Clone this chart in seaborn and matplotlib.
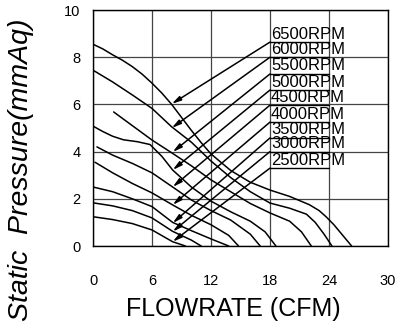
import matplotlib
matplotlib.use("Agg")
import matplotlib.pyplot as plt
import seaborn as sns
import pandas as pd

# ---- data ----
rpm_labels = ["6500RPM", "6000RPM", "5500RPM", "5000RPM", "4500RPM",
              "4000RPM", "3500RPM", "3000RPM", "2500RPM"]

x_6500 = [0, 1, 2, 3, 4, 5, 6, 7, 8, 9, 10, 11, 12, 14, 16, 18, 20, 22, 23, 23.7, 24.5, 25.4, 26.3]
y_6500 = [8.55, 8.35, 8.1, 7.87, 7.6, 7.28, 6.9, 6.48, 6.0, 5.45, 4.9, 4.38, 3.9, 3.2, 2.7, 2.37, 2.1, 1.75, 1.5, 1.24, 0.9, 0.45, 0]
x_6000 = [0, 2, 4, 6, 8, 10, 12, 14, 16, 18, 20, 21.7, 22.6, 23.5, 24.3]
y_6000 = [7.45, 6.95, 6.4, 5.83, 5.05, 4.4, 3.6, 2.9, 2.3, 1.82, 1.6, 1.35, 1.0, 0.5, 0]
x_5500 = [2.1, 4, 6, 8, 10, 12, 14, 16, 18, 20, 21.2, 22.2]
y_5500 = [5.68, 5.1, 4.49, 3.95, 3.4, 2.8, 2.3, 1.8, 1.4, 1.05, 0.6, 0]
x_5000 = [0, 1, 2, 3.1, 4.5, 5.8, 7, 8.1, 10, 12, 14, 16, 17.5, 18.6]
y_5000 = [5.08, 4.85, 4.65, 4.5, 4.42, 4.3, 3.8, 3.22, 2.5, 1.9, 1.45, 1.05, 0.6, 0]
x_4500 = [0.4, 2, 4, 6, 8.1, 10, 12, 14, 16, 17]
y_4500 = [4.2, 3.85, 3.5, 3.1, 2.5, 1.95, 1.5, 1.1, 0.5, 0]
x_4000 = [0.2, 2, 4, 6, 8.1, 10, 12, 13.8, 14.8]
y_4000 = [3.55, 3.1, 2.65, 2.25, 1.74, 1.3, 0.9, 0.45, 0]
x_3500 = [0, 2, 4, 6, 8.1, 10, 12, 13.8]
y_3500 = [2.5, 2.3, 2.0, 1.67, 1.0, 0.65, 0.3, 0]
x_3000 = [0, 2, 4, 6, 8.1, 10, 11]
y_3000 = [1.83, 1.7, 1.5, 1.19, 0.62, 0.25, 0]
x_2500 = [0, 2, 4, 6, 8.1, 9.4]
y_2500 = [1.24, 1.12, 0.95, 0.68, 0.18, 0]

curves_x = [x_6500, x_6000, x_5500, x_5000, x_4500, x_4000, x_3500, x_3000, x_2500]
curves_y = [y_6500, y_6000, y_5500, y_5000, y_4500, y_4000, y_3500, y_3000, y_2500]

# label underline heights (where arrows start) and arrow tips
label_y = [8.64, 8.0, 7.29, 6.61, 5.97, 5.25, 4.58, 4.0, 3.3]
tip_x = [8.0, 8.0, 8.1, 8.1, 8.1, 8.1, 8.1, 8.1, 8.1]
tip_y = [6.02, 5.0, 3.98, 3.22, 2.5, 1.74, 0.97, 0.61, 0.18]

x_ticks = [0, 6, 12, 18, 24, 30]
y_ticks = [0, 2, 4, 6, 8, 10]

# ---- build long-form table ----
rows = []
for lab, xs, ys in zip(rpm_labels, curves_x, curves_y):
    for a, b in zip(xs, ys):
        rows.append({"rpm": lab, "flow": a, "pressure": b})
df = pd.DataFrame(rows)

sns.set_theme(style="white")
plt.rcParams["font.family"] = ["Liberation Sans", "DejaVu Sans"]
plt.rcParams["text.color"] = "black"
plt.rcParams["axes.labelcolor"] = "black"
plt.rcParams["xtick.color"] = "black"
plt.rcParams["ytick.color"] = "black"

fig = plt.figure(figsize=(4.07, 3.30), dpi=100)
ax = fig.add_axes([93/407, 1 - 246/330, 295/407, 236/330])

sns.lineplot(data=df, x="flow", y="pressure", hue="rpm", units="rpm",
             estimator=None, sort=False, palette=["black"] * len(rpm_labels),
             linewidth=1.1, legend=False, ax=ax)

ax.set_xlim(0, 30)
ax.set_ylim(0, 10)
ax.set_xticks(x_ticks)
ax.set_yticks(y_ticks)
ax.set_xticklabels([str(v) for v in x_ticks], fontsize=10.5)
ax.set_yticklabels([str(v) for v in y_ticks], fontsize=10.5)
ax.tick_params(axis="x", length=0, pad=20, colors="black")
ax.tick_params(axis="y", length=0, pad=9, colors="black")

ax.grid(True, color="#444444", linewidth=0.9)
ax.set_axisbelow(True)
for s in ax.spines.values():
    s.set_color("black")
    s.set_linewidth(1.0)

# labels, underlines and arrows
for lab, ly, tx, ty in zip(rpm_labels, label_y, tip_x, tip_y):
    ax.text(18.1, ly + 0.02, lab, fontsize=12, ha="left", va="bottom", color="black")
    ax.plot([18, 24], [ly, ly], color="black", linewidth=1.0)
    ax.annotate("", xy=(tx, ty), xytext=(18, ly),
                arrowprops=dict(arrowstyle="-|>,head_length=0.6,head_width=0.15",
                                mutation_scale=9, color="black", lw=1.1,
                                shrinkA=0, shrinkB=0))

ax.set_xlabel("FLOWRATE (CFM)", fontsize=18, color="black")
ax.xaxis.set_label_coords(0.475, -0.215)
ax.set_ylabel("Static  Pressure(mmAq)", fontsize=20.5, style="italic", color="black")
ax.yaxis.set_label_coords(-0.2, 0.325)

fig.savefig("out.png", dpi=100)
